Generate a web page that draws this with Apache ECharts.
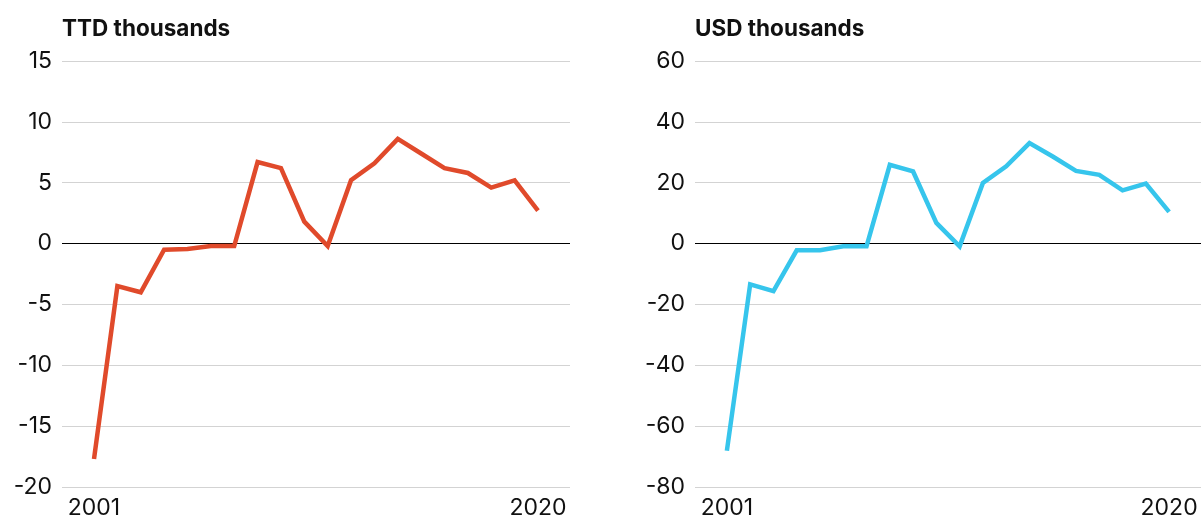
<!DOCTYPE html>
<html>
<head>
<meta charset="utf-8">
<script src="https://cdn.jsdelivr.net/npm/echarts@6/dist/echarts.min.js"></script>
<style>
html,body{margin:0;padding:0;background:#fff;}
#chart{width:1201px;height:520px;}
</style>
</head>
<body>
<div id="chart"></div>
<script>
const years = [2001,2002,2003,2004,2005,2006,2007,2008,2009,2010,2011,2012,2013,2014,2015,2016,2017,2018,2019,2020];
const ttdValues = [-17.7,-3.5,-4.0,-0.5,-0.45,-0.2,-0.2,6.7,6.2,1.8,-0.2,5.2,6.6,8.6,7.4,6.2,5.8,4.6,5.2,2.7];
const usdValues = [-68.1,-13.4,-15.6,-2.2,-2.2,-0.9,-0.9,25.9,23.7,6.8,-0.9,19.9,25.4,33.0,28.6,23.9,22.6,17.5,19.7,10.4];
const xTickLabels = [2001, 2020];
const titles = ['TTD thousands', 'USD thousands'];

const FONT = 'Inter';
const grey = '#d3d3d3';
const splitColors = [grey, grey, grey, grey, '#000000', grey, grey, grey];

const chart = echarts.init(document.getElementById('chart'));

function xAxisCfg(idx){
  return {
    type: 'value', gridIndex: idx, min: 1999.63, max: 2021.37,
    axisLine: {show: false}, axisTick: {show: false}, splitLine: {show: false},
    axisLabel: {
      customValues: xTickLabels, margin: 10,
      color: '#111', fontSize: 23, fontFamily: FONT,
      formatter: v => String(v)
    }
  };
}
function yAxisCfg(idx, min, max, interval){
  return {
    type: 'value', gridIndex: idx, min: min, max: max, interval: interval,
    axisLine: {show: false}, axisTick: {show: false},
    splitLine: {show: true, lineStyle: {color: splitColors, width: 1}},
    axisLabel: {margin: 10, color: '#111', fontSize: 23, fontFamily: FONT}
  };
}

chart.setOption({
  animation: false,
  title: [
    {text: titles[0], left: 62, top: 18, padding: 0, textStyle: {fontSize: 22.5, fontWeight: 'bold', color: '#111', fontFamily: FONT}},
    {text: titles[1], left: 695, top: 18, padding: 0, textStyle: {fontSize: 22.5, fontWeight: 'bold', color: '#111', fontFamily: FONT}}
  ],
  grid: [
    {left: 62, top: 61, width: 508, height: 427},
    {left: 695, top: 61, width: 506, height: 427}
  ],
  xAxis: [xAxisCfg(0), xAxisCfg(1)],
  yAxis: [yAxisCfg(0, -20, 15, 5), yAxisCfg(1, -80, 60, 20)],
  series: [
    {type: 'line', xAxisIndex: 0, yAxisIndex: 0, data: years.map((y,i)=>[y, ttdValues[i]]),
     showSymbol: false, lineStyle: {color: '#e04a2b', width: 4.5, join: 'miter'}, itemStyle: {color: '#e04a2b'}},
    {type: 'line', xAxisIndex: 1, yAxisIndex: 1, data: years.map((y,i)=>[y, usdValues[i]]),
     showSymbol: false, lineStyle: {color: '#36c5ec', width: 4.5, join: 'miter'}, itemStyle: {color: '#36c5ec'}}
  ]
});
</script>
</body>
</html>
